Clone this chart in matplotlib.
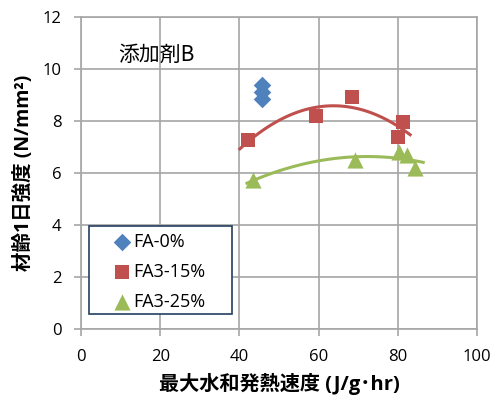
import numpy as np
import matplotlib
matplotlib.use("Agg")
import matplotlib.pyplot as plt
from matplotlib.patches import Rectangle

plt.rcParams['font.family'] = ['Open Sans', 'Noto Sans CJK JP', 'DejaVu Sans']

fa0_x = [45.6, 45.6, 45.6]
fa0_y = [9.38, 9.13, 8.85]
fa15_x = [42.2, 59.3, 68.5, 80.1, 81.2]
fa15_y = [7.27, 8.20, 8.94, 7.37, 7.95]
fa25_x = [43.5, 69.3, 80.3, 82.2, 84.3]
fa25_y = [5.73, 6.50, 6.80, 6.69, 6.18]
xticks = [0, 20, 40, 60, 80, 100]
yticks = [0, 2, 4, 6, 8, 10, 12]

blue = '#4F81BD'
red = '#C0504D'
green = '#9BBB59'
gridc = '#A6A6A6'

fig = plt.figure(figsize=(4.98, 3.96), dpi=100)
ax = fig.add_axes([0.1627, 0.169, 0.7953, 0.788])
ax.set_xlim(0, 100)
ax.set_ylim(0, 12)
ax.set_xticks(xticks)
ax.set_yticks(yticks)
ax.grid(True, color=gridc, linewidth=1.2)
ax.set_axisbelow(True)
for s in ax.spines.values():
    s.set_color(gridc)
    s.set_linewidth(1.2)
ax.tick_params(direction='out', length=5, color=gridc, width=1.2, labelsize=12)
ax.tick_params(axis='x', pad=9)
ax.tick_params(axis='y', pad=9)

# trendlines (2nd-order polynomial)
c15 = np.polyfit(fa15_x, fa15_y, 2)
xx15 = np.linspace(40.1, 83.1, 100)
ax.plot(xx15, np.polyval(c15, xx15), color=red, lw=2.2, zorder=2)
c25 = np.polyfit(fa25_x, fa25_y, 2)
xx25 = np.linspace(41.9, 86.4, 100)
ax.plot(xx25, np.polyval(c25, xx25), color=green, lw=2.2, zorder=2)

ax.scatter(fa0_x, fa0_y, marker='D', s=80, color=blue, label='FA-0%', zorder=3, linewidths=0)
ax.scatter(fa15_x, fa15_y, marker='s', s=115, color=red, label='FA3-15%', zorder=3, linewidths=0)
ax.scatter(fa25_x, fa25_y, marker='^', s=135, color=green, label='FA3-25%', zorder=3, linewidths=0)

ax.text(9.3, 10.54, '添加剤B', fontsize=15, va='center', ha='left',
        family=['Noto Sans CJK JP', 'DejaVu Sans'])

# legend frame
frame = Rectangle((0.0202, 0.048), 0.361, 0.282, transform=ax.transAxes,
                  facecolor='white', edgecolor='#243F60', linewidth=1.2, zorder=4)
ax.add_patch(frame)
leg = ax.legend(loc='center left', bbox_to_anchor=(0.0795, 0.1837), fontsize=13,
                frameon=False, borderpad=0, borderaxespad=0,
                handletextpad=0.13, labelspacing=0.67, handlelength=1.0,
                scatterpoints=1)
leg.set_zorder(5)

ax.set_xlabel('最大水和発熱速度 (J/g･hr)', fontsize=14.5, fontweight='bold',
              family=['Open Sans', 'Noto Sans CJK JP', 'DejaVu Sans'], labelpad=6)
ax.set_ylabel('材齢1日強度 (N/mm²)', fontsize=14, fontweight='bold',
              family=['Open Sans', 'Noto Sans CJK JP', 'DejaVu Sans'], labelpad=6)

fig.savefig('out.png', dpi=100)
